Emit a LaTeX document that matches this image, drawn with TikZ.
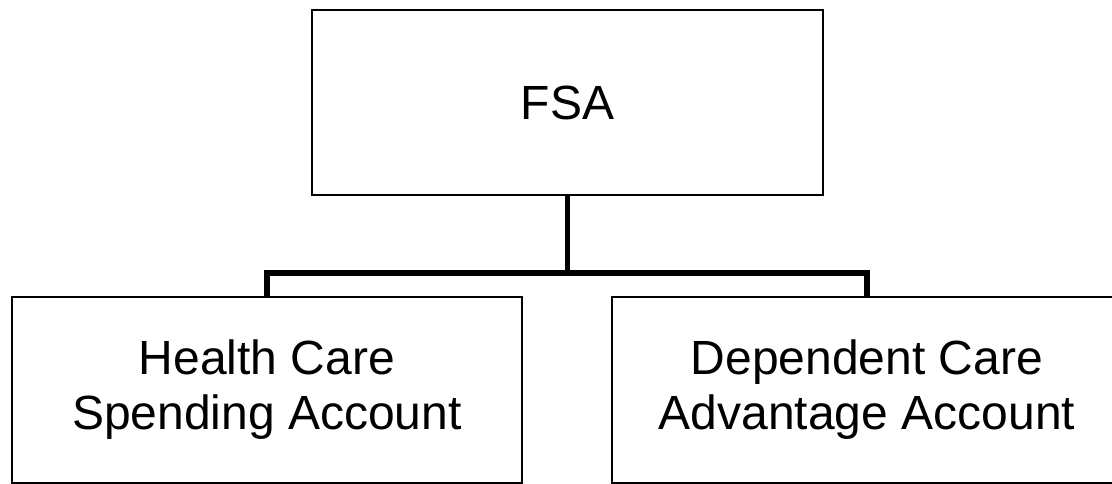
\documentclass[tikz,border=0pt]{standalone}
\usepackage{fontspec}
\setmainfont{Liberation Sans}
\begin{document}
\begin{tikzpicture}[x=1pt,y=-1pt,
  box/.style={draw=black,line width=2pt,fill=white,inner sep=0pt,align=center,
    font=\fontsize{48}{55}\selectfont},
  conn/.style={draw=black,line width=5.5pt}]
\useasboundingbox (0,0) rectangle (1112,484);
\node[box,minimum width=511pt,minimum height=185pt] (fsa) at (567.5,103) {FSA};
\node[box,minimum width=510pt,minimum height=186pt] (hc) at (267,390) {Health Care\\Spending Account};
\node[box,minimum width=510pt,minimum height=186pt] (dc) at (867,390) {Dependent Care\\Advantage Account};
\coordinate (j) at (567.5,273);
\draw[conn] (fsa.south) -- (j);
\draw[conn] (hc.north) -- (hc.north |- j) -- (dc.north |- j) -- (dc.north);
\end{tikzpicture}
\end{document}
